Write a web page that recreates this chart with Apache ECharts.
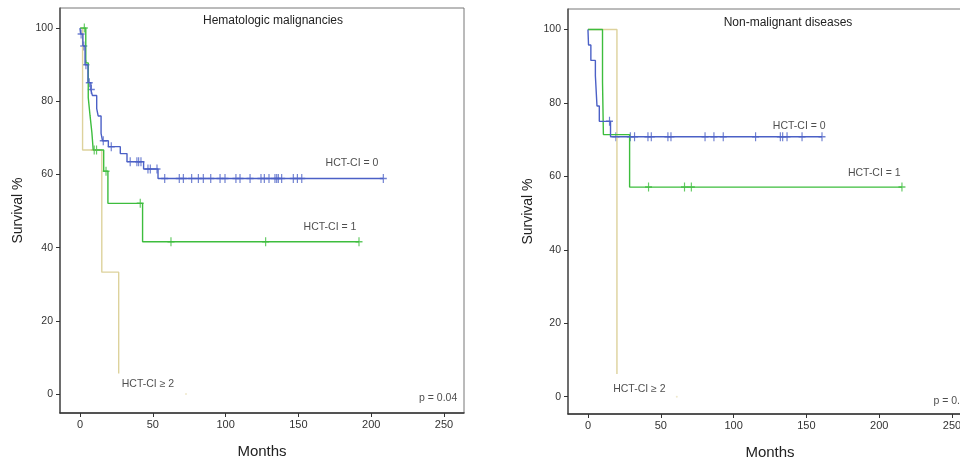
<!DOCTYPE html>
<html>
<head>
<meta charset="utf-8">
<script src="https://cdn.jsdelivr.net/npm/echarts@6/dist/echarts.min.js"></script>
<style>
  html, body { margin: 0; padding: 0; background: #fff; }
  #chart { width: 960px; height: 461px; }
</style>
</head>
<body>
<div id="chart"></div>
<script>
// Hematologic malignancies: step times (months) and survival (%)
const hemT0 = [0, 0.5, 2, 3.5, 5.5, 7.5, 8.5, 11.5, 12.5, 14.5, 15.5, 19.5, 27.7, 32.3, 43.7, 53.6, 208.3]
const hemS0 = [100, 98.4, 95.1, 90, 85.1, 83.2, 81.6, 78, 76, 71.2, 69.2, 67.6, 65.7, 63.5, 61.5, 58.9, 58.9]
const hemCens0 = [0.8, 2.6, 4.1, 6.4, 7.8, 16, 21.5, 34.5, 39.1, 40.3, 41.9, 46.7, 48.3, 52.9, 58.2, 68.2, 71, 76.7,
  81.3, 84.7, 89.8, 96.2, 99.6, 107.1, 109.9, 116.8, 124.3, 126.6, 129.8, 133.9, 135.1, 136.2, 138.5, 146.5, 149.3, 152.3, 208.3]
const hemT1 = [0, 4, 5.7, 6.9, 8.2, 9.1, 16.3, 19.2, 43, 191.6]
const hemS1 = [100, 90.5, 81, 76.2, 71.4, 66.7, 60.9, 52.1, 41.6, 41.6]
const hemCens1 = [3, 9.8, 11.4, 17.9, 41.4, 62.5, 127.5, 191.6]
const hemT2 = [0, 1.8, 15, 26.6]
const hemS2 = [100, 66.7, 33.3, 5.6]
const hemTail2 = [72.8, 0]

// Non-malignant diseases
const nonT0 = [0, 0.4, 2, 5.1, 6.2, 7.8, 15.5, 160.7]
const nonS0 = [100, 95.8, 91.6, 87.4, 79.2, 75, 70.8, 70.8]
const nonCens0 = [14.8, 19.2, 29.1, 32, 41.2, 43.5, 54.9, 57, 80.4, 86.5, 92.9, 115.1, 132.1, 133.7, 136.7, 147, 160.7]
const nonT1 = [0, 10, 10.6, 28.6, 215.6]
const nonS1 = [100, 85.7, 71.4, 57.1, 57.1]
const nonCens1 = [41.6, 66.3, 71, 215.6]
const nonT2 = [0, 19.9]
const nonS2 = [100, 6.2]
const nonTail2 = [61, 0]

const xTicks = [0, 50, 100, 150, 200, 250]
const yTicks = [0, 20, 40, 60, 80, 100]

// text annotations [months, survival, text, align]
const hemLabels = [
  [186.8, 63.1, 'HCT-CI = 0', 'center'],
  [171.7, 45.6, 'HCT-CI = 1', 'center'],
  [46.7, 2.7, 'HCT-CI ≥ 2', 'center'],
  [232.8, -1.1, 'p = 0.04', 'left']
]
const nonLabels = [
  [145.1, 73.8, 'HCT-CI = 0', 'center'],
  [196.6, 61, 'HCT-CI = 1', 'center'],
  [35.3, 2.1, 'HCT-CI ≥ 2', 'center'],
  [237.2, -1.2, 'p = 0.', 'left']
]

const BLUE = '#4b60c6'
const GREEN = '#3dbd3d'
const YELLOW = '#ddd29c'
const FONT = 'Liberation Sans, Arial, sans-serif'
const PLUS = 'path://M5,0H7V5H12V7H7V12H5V7H0V5H5Z'

function pairs(ts, ss) {
  return ts.map((t, i) => [t, ss[i]])
}
function survAt(ts, ss, t) {
  let s = ss[0]
  for (let i = 0; i < ts.length; i++) {
    if (ts[i] <= t) s = ss[i]
  }
  return s
}
function stepLine(idx, ts, ss, color) {
  return {
    type: 'line', xAxisIndex: idx, yAxisIndex: idx, step: 'end',
    data: pairs(ts, ss), showSymbol: false, silent: true,
    lineStyle: { color: color, width: 1.4 }
  }
}
function censors(idx, cs, ts, ss, color) {
  return {
    type: 'scatter', xAxisIndex: idx, yAxisIndex: idx, silent: true,
    symbol: PLUS, symbolSize: [7, 9], symbolKeepAspect: false,
    itemStyle: { color: color },
    data: cs.map(t => [t, survAt(ts, ss, t)])
  }
}
function tailDot(idx, p) {
  return {
    type: 'scatter', xAxisIndex: idx, yAxisIndex: idx, silent: true,
    symbolSize: 2, itemStyle: { color: '#ebe4c0' }, data: [p]
  }
}
function labels(idx, list) {
  return {
    type: 'scatter', xAxisIndex: idx, yAxisIndex: idx, silent: true,
    symbolSize: 1, itemStyle: { color: 'rgba(0,0,0,0)' },
    data: list.map(l => ({
      value: [l[0], l[1]], name: l[2],
      label: { align: l[3] }
    })),
    label: {
      show: true, position: 'inside', formatter: '{b}',
      color: '#222', fontSize: 10.5, fontFamily: FONT
    }
  }
}
function xAxis(idx) {
  return {
    type: 'value', gridIndex: idx, min: -13.7, max: 263.7,
    splitLine: { show: false },
    axisLine: { onZero: false, lineStyle: { color: '#333', width: 1.5 } },
    axisTick: { customValues: xTicks, length: 4, lineStyle: { color: '#333' } },
    axisLabel: { customValues: xTicks, color: '#333', fontSize: 11, margin: 6, fontFamily: FONT },
    name: 'Months', nameLocation: 'middle', nameGap: 31,
    nameTextStyle: { color: '#222', fontSize: 15, fontFamily: FONT }
  }
}
function yAxis(idx, min, max, gap) {
  return {
    type: 'value', gridIndex: idx, min: min, max: max,
    splitLine: { show: false },
    axisLine: { onZero: false, lineStyle: { color: '#555', width: 1.5 } },
    axisTick: { customValues: yTicks, length: 4, lineStyle: { color: '#333' } },
    axisLabel: { customValues: yTicks, color: '#333', fontSize: 10.5, margin: 7, fontFamily: FONT },
    name: 'Survival %', nameLocation: 'middle', nameGap: gap,
    nameTextStyle: { color: '#222', fontSize: 14, fontFamily: FONT }
  }
}

const option = {
  animation: false,
  title: [
    { text: 'Hematologic malignancies', left: 273, top: 15, textAlign: 'center', padding: 0,
      textStyle: { fontSize: 12, fontWeight: 'normal', color: '#222', fontFamily: FONT } },
    { text: 'Non-malignant diseases', left: 788, top: 17, textAlign: 'center', padding: 0,
      textStyle: { fontSize: 12, fontWeight: 'normal', color: '#222', fontFamily: FONT } }
  ],
  grid: [
    { left: 60, top: 8, width: 404, height: 405, show: true, borderColor: '#777', borderWidth: 1,
      outerBoundsMode: 'none', containLabel: false },
    { left: 568, top: 9, width: 404, height: 405, show: true, borderColor: '#777', borderWidth: 1,
      outerBoundsMode: 'none', containLabel: false }
  ],
  xAxis: [xAxis(0), xAxis(1)],
  yAxis: [yAxis(0, -5.2, 105.5, 35), yAxis(1, -4.7, 105.6, 33)],
  series: [
    stepLine(0, hemT2, hemS2, YELLOW),
    tailDot(0, hemTail2),
    stepLine(0, hemT1, hemS1, GREEN),
    censors(0, hemCens1, hemT1, hemS1, GREEN),
    stepLine(0, hemT0, hemS0, BLUE),
    censors(0, hemCens0, hemT0, hemS0, BLUE),
    labels(0, hemLabels),

    stepLine(1, nonT2, nonS2, YELLOW),
    tailDot(1, nonTail2),
    stepLine(1, nonT1, nonS1, GREEN),
    censors(1, nonCens1, nonT1, nonS1, GREEN),
    stepLine(1, nonT0, nonS0, BLUE),
    censors(1, nonCens0, nonT0, nonS0, BLUE),
    labels(1, nonLabels)
  ]
}

const chart = echarts.init(document.getElementById('chart'))
chart.setOption(option)
</script>
</body>
</html>
